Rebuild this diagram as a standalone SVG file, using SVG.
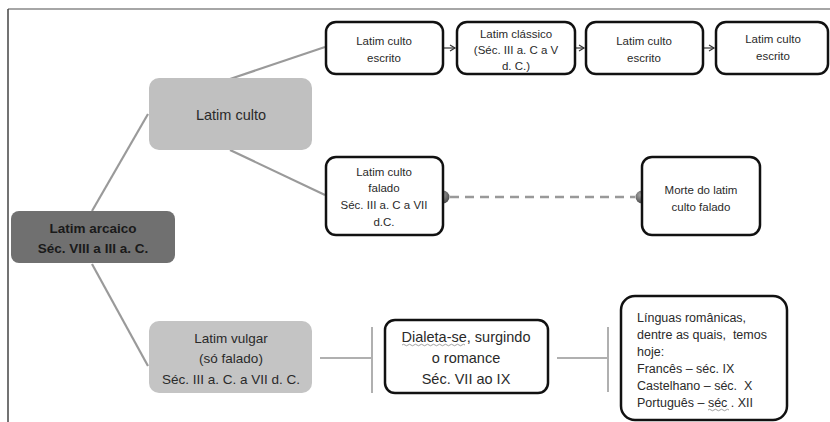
<svg xmlns="http://www.w3.org/2000/svg" width="830" height="422" viewBox="0 0 830 422">
<defs>
<style>
.t{font-family:"Liberation Sans",Arial,sans-serif;fill:#2a2a2a;text-anchor:middle}
.s{font-size:11.5px}
.m{font-size:14.5px}
.v{font-size:13.5px}
.b{font-size:13.5px;font-weight:bold;fill:#1a1a1a}
.l{font-size:12.5px;text-anchor:start;white-space:pre}
.box{fill:#fff;stroke:#111;stroke-width:2.5}
.con{stroke:#9a9a9a;stroke-width:2.2;fill:none}
.bar{stroke:#b0b0b0;stroke-width:2;fill:none}
.arr{stroke:#333;stroke-width:1.2;fill:none}
.wav{stroke:#888;stroke-width:0.8;fill:none}
</style>
<marker id="ah" markerWidth="8" markerHeight="8" refX="6" refY="4" orient="auto" markerUnits="userSpaceOnUse">
<path d="M1,1 L6,4 L1,7" fill="none" stroke="#333" stroke-width="1.2"/>
</marker>
<radialGradient id="ball" cx="0.4" cy="0.35" r="0.7">
<stop offset="0" stop-color="#aaa"/>
<stop offset="1" stop-color="#444"/>
</radialGradient>
</defs>
<rect width="830" height="422" fill="#fff"/>
<line x1="8" y1="9" x2="830" y2="9" stroke="#888" stroke-width="1.5"/>
<line x1="8" y1="9" x2="8" y2="422" stroke="#444" stroke-width="1.5"/>

<g id="connectors">
<line class="con" x1="92" y1="211" x2="148" y2="114"/>
<line class="con" x1="92" y1="264" x2="148" y2="366"/>
<line class="con" x1="230" y1="79" x2="325" y2="47"/>
<line class="con" x1="230" y1="150" x2="325" y2="195"/>
<line class="arr" x1="444" y1="48" x2="455" y2="48" marker-end="url(#ah)"/>
<line class="arr" x1="576" y1="48" x2="584" y2="48" marker-end="url(#ah)"/>
<line class="arr" x1="704" y1="48" x2="714" y2="48" marker-end="url(#ah)"/>
<line x1="450" y1="197" x2="635" y2="197" stroke="#999" stroke-width="2.5" stroke-dasharray="9,6"/>
<circle cx="443" cy="197" r="6.5" fill="url(#ball)"/>
<circle cx="642" cy="197" r="6.5" fill="url(#ball)"/>
<line class="bar" x1="320" y1="358" x2="372" y2="358"/>
<line class="bar" x1="372" y1="327" x2="372" y2="393"/>
<line class="bar" x1="557" y1="358" x2="608" y2="358"/>
<line class="bar" x1="608" y1="327" x2="608" y2="392"/>
</g>

<g id="latim-arcaico">
<rect x="11" y="211" width="164" height="52" rx="8" fill="#707070"/>
<text class="t b" x="93" y="233">Latim arcaico</text>
<text class="t b" x="93" y="253">Séc. VIII a III a. C.</text>
</g>

<g id="latim-culto">
<rect x="149" y="78" width="163" height="72" rx="10" fill="#c0c0c0"/>
<text class="t m" x="231" y="120">Latim culto</text>
</g>

<g id="latim-vulgar">
<rect x="149" y="321" width="163" height="72" rx="10" fill="#c4c4c4"/>
<text class="t v" x="231" y="343">Latim vulgar</text>
<text class="t v" x="231" y="363">(só falado)</text>
<text class="t v" x="231" y="384">Séc. III a. C. a VII d. C.</text>
</g>

<g id="culto-escrito-1">
<rect class="box" x="326" y="22" width="117" height="52" rx="10"/>
<text class="t s" x="384" y="45">Latim culto</text>
<text class="t s" x="384" y="62">escrito</text>
</g>

<g id="latim-classico">
<rect class="box" x="457" y="22" width="118" height="52" rx="10"/>
<text class="t s" x="516" y="38">Latim clássico</text>
<text class="t s" x="516" y="54">(Séc. III a. C a V</text>
<text class="t s" x="516" y="70">d. C.)</text>
</g>

<g id="culto-escrito-2">
<rect class="box" x="586" y="22" width="117" height="52" rx="10"/>
<text class="t s" x="644" y="45">Latim culto</text>
<text class="t s" x="644" y="62">escrito</text>
</g>

<g id="culto-escrito-3">
<rect class="box" x="716" y="22" width="112" height="52" rx="10"/>
<text class="t s" x="773" y="43">Latim culto</text>
<text class="t s" x="773" y="60">escrito</text>
</g>

<g id="culto-falado">
<rect class="box" x="326" y="157" width="117" height="78" rx="10"/>
<text class="t s" x="384" y="176">Latim culto</text>
<text class="t s" x="384" y="192">falado</text>
<text class="t s" x="384" y="209">Séc. III a. C a VII</text>
<text class="t s" x="384" y="226">d.C.</text>
</g>

<g id="morte">
<rect class="box" x="642" y="157" width="118" height="78" rx="10"/>
<text class="t s" x="701" y="194">Morte do latim</text>
<text class="t s" x="701" y="211">culto falado</text>
</g>

<g id="dialeta">
<rect class="box" x="385" y="320" width="163" height="73" rx="10"/>
<text class="t m" x="466" y="342">Dialeta-se, surgindo</text>
<text class="t m" x="466" y="363">o romance</text>
<text class="t m" x="466" y="384">Séc. VII ao IX</text>
<path class="wav" d="M402,345 q1.5,-1.5 3,0 t3,0 t3,0 t3,0 t3,0 t3,0 t3,0 t3,0 t3,0 t3,0 t3,0 t3,0 t3,0 t3,0 t3,0 t3,0 t3,0 t3,0 t3,0 t3,0 t3,0"/>
</g>

<g id="linguas">
<rect class="box" x="621" y="296" width="166" height="124" rx="14"/>
<text class="t l" x="637" y="322">Línguas românicas,</text>
<text class="t l" x="637" y="339">dentre as quais,  temos</text>
<text class="t l" x="637" y="356">hoje:</text>
<text class="t l" x="637" y="373">Francês – séc. IX</text>
<text class="t l" x="637" y="390">Castelhano – séc.  X</text>
<text class="t l" x="637" y="407">Português – séc . XII</text>
<path class="wav" d="M708,410 q1.5,-1.5 3,0 t3,0 t3,0 t3,0 t3,0 t3,0 t3,0"/>
</g>
</svg>
